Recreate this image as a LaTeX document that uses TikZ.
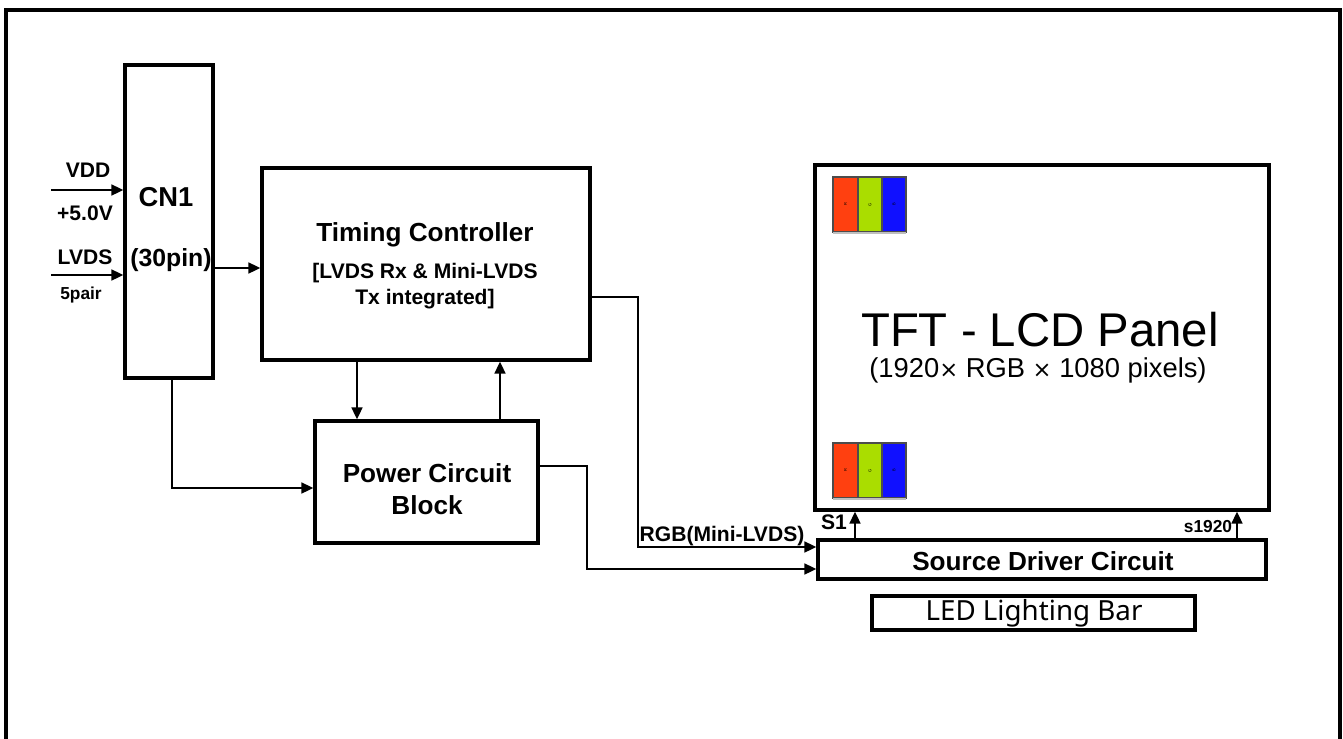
\documentclass[tikz,border=0pt]{standalone}
\usepackage{fontspec}
\setmainfont{Liberation Sans}
\newfontfamily\ledfont{Noto Sans}
\usetikzlibrary{arrows.meta}
\definecolor{stripeR}{HTML}{FF4010}
\definecolor{stripeG}{HTML}{AADD00}
\definecolor{stripeB}{HTML}{1010FF}
\tikzset{
  blk/.style={draw, line width=2.35pt, inner sep=0pt},
  conn/.style={line width=1.9pt, -{Triangle[length=9pt,width=8pt]}},
  bigb/.style={font=\fontsize{19.6}{24}\selectfont\bfseries},
  midb/.style={font=\fontsize{15.8}{19}\selectfont\bfseries},
  smb/.style={font=\fontsize{13}{15}\selectfont\bfseries},
  stripe/.style={draw=black!70, line width=0.8pt},
}
\begin{document}
\begin{tikzpicture}[x=0.75pt,y=-0.75pt]
\useasboundingbox (0,0) rectangle (1343,739);
\fill[white] (0,0) rectangle (1343,739);
% outer frame
\draw[line width=2.35pt] (6,760) -- (6,10) -- (1340,10) -- (1340,760);

% boxes
\node[blk, minimum width=88*0.75pt, minimum height=313*0.75pt] (cn1) at (169,221.5) {};
\node[bigb] (cn1t) at (166,197) {\fontsize{20.5}{24}\selectfont CN1};
\node[bigb] (cn1p) at (171,260) {\fontsize{18.6}{22}\selectfont (30pin)};

\node[blk, minimum width=328*0.75pt, minimum height=192*0.75pt] (tc) at (426,264) {};
\node[bigb] (tct) at (425,235) {Timing Controller};
\node[midb, align=center] (tcs) at (425,286) {[LVDS Rx \& Mini-LVDS\\Tx integrated]};

\node[blk, minimum width=223*0.75pt, minimum height=122*0.75pt] (pw) at (426.5,482) {};
\node[bigb, align=center] (pwt) at (427,489) {Power Circuit\\Block};

\node[blk, minimum width=454*0.75pt, minimum height=345*0.75pt] (tft) at (1042,337.5) {};
\node[font=\fontsize{35.5}{40}\selectfont] (tftt) at (1040,330) {TFT - LCD Panel};
\node[font=\fontsize{20.5}{24}\selectfont] (tfts) at (1038,370) {(1920{\fontspec{DejaVu Sans}\fontsize{17}{20}\selectfont×} RGB {\fontspec{DejaVu Sans}\fontsize{17}{20}\selectfont×} 1080 pixels)};

\node[blk, minimum width=448*0.75pt, minimum height=39*0.75pt] (sd) at (1042,559.5) {};
\node[bigb] (sdt) at (1043,561) {Source Driver Circuit};

\node[blk, minimum width=323*0.75pt, minimum height=34*0.75pt] (led) at (1033.5,613) {};
\node[font=\ledfont\fontsize{20.8}{24}\selectfont] (ledt) at (1034,613) {LED Lighting Bar};

% stripes
\foreach \yy/\nm in {177/top,443/bot}{
  \fill[stripeR] (833,\yy) rectangle (858,\yy+55);
  \fill[stripeG] (858,\yy) rectangle (882,\yy+55);
  \fill[stripeB] (882,\yy) rectangle (906,\yy+55);
  \draw[stripe] (833,\yy) rectangle (906,\yy+55);
  \draw[stripe] (858,\yy) -- (858,\yy+55);
  \draw[stripe] (882,\yy) -- (882,\yy+55);
  \draw[black!25, line width=1pt] (833,\yy+56) -- (906,\yy+56);
  \node[font=\fontsize{3}{3}\selectfont, rotate=90, inner sep=0pt] (r\nm) at (845.5,\yy+27.5) {R};
  \node[font=\fontsize{3}{3}\selectfont, rotate=90, inner sep=0pt] (g\nm) at (870,\yy+27.5) {G};
  \node[font=\fontsize{3}{3}\selectfont, rotate=90, inner sep=0pt] (b\nm) at (894,\yy+27.5) {B};
}

% inputs
\coordinate (vddin) at (51,190);
\coordinate (lvdsin) at (51,275);
\draw[conn] (vddin) -- (vddin -| cn1.west);
\draw[conn] (lvdsin) -- (lvdsin -| cn1.west);
\node[midb] (vdd) at (88,170) {VDD};
\node[midb] (v5) at (85,213) {+5.0V};
\node[midb] (lvds) at (85,257) {LVDS};
\node[smb] (pair) at (81,295) {5pair};

% CN1 -> TC
\coordinate (c1) at (213,268);
\draw[conn] (c1) -- (c1 -| tc.west);

% TC <-> Power
\coordinate (d1) at (357,360);
\draw[conn] (d1) -- (d1 |- pw.north);
\coordinate (u1) at (500,421);
\draw[conn] (u1) -- (u1 |- tc.south);

% CN1 -> Power
\coordinate (p1) at (172,488);
\draw[conn] (cn1.south -| p1) -- (p1) -- (p1 -| pw.west);

% TC -> Source driver
\coordinate (r1) at (638,297);
\coordinate (r2) at (638,547);
\draw[conn] (r1 -| tc.east) -- (r1) -- (r2) -- (r2 -| sd.west);
\node[midb] (rgb) at (722,536) {RGB(Mini-LVDS)};

% Power -> Source driver
\coordinate (q1) at (587,466);
\coordinate (q2) at (587,569);
\draw[conn] (q1 -| pw.east) -- (q1) -- (q2) -- (q2 -| sd.west);

% S1 and s1920
\coordinate (s1) at (855,540);
\draw[conn] (s1) -- (s1 |- tft.south);
\node[midb] (s1t) at (834,522) {S1};
\coordinate (s2) at (1237,540);
\draw[conn] (s2) -- (s2 |- tft.south);
\node[smb] (s2t) at (1208,527) {s1920};
\end{tikzpicture}
\end{document}
